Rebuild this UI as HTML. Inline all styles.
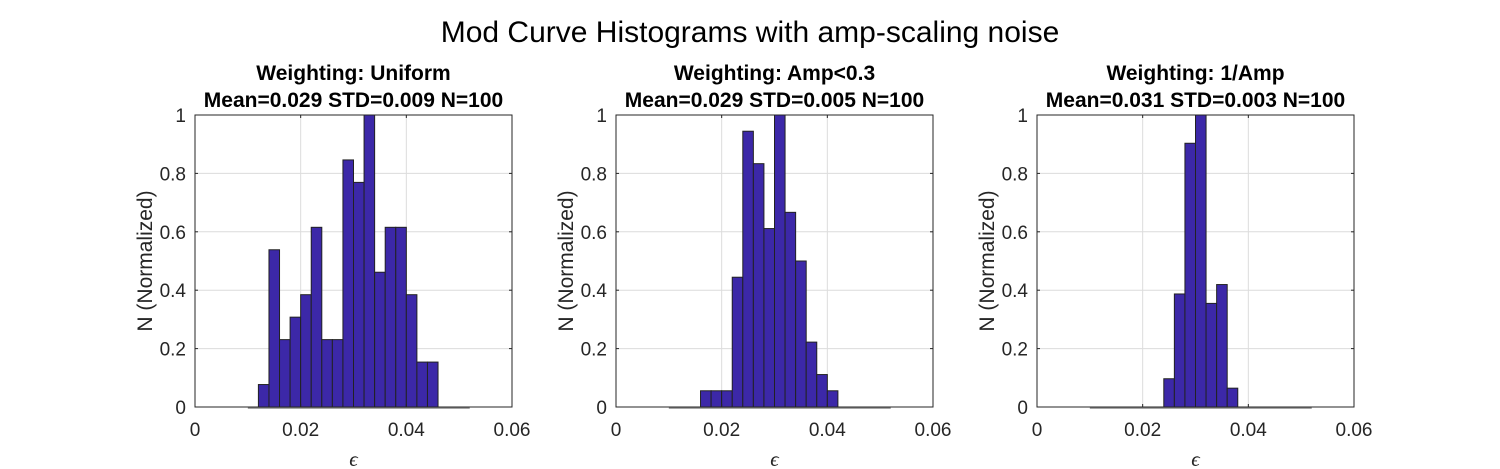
<!DOCTYPE html>
<html><head><meta charset="utf-8"><style>
html,body{margin:0;padding:0;background:#fff;}
svg{display:block;font-family:"Liberation Sans",Arial,sans-serif;}
</style></head><body>
<svg id="fig" width="1500" height="469" viewBox="0 0 1500 469">
<text x="750" y="42" text-anchor="middle" font-size="30" fill="#000">Mod Curve Histograms with amp-scaling noise</text>
</svg>
<script>
const binStart = 0.010, binWidth = 0.002, binCount = 21;
const titles1 = ["Weighting: Uniform", "Weighting: Amp<0.3", "Weighting: 1/Amp"];
const titles2 = ["Mean=0.029 STD=0.009 N=100", "Mean=0.029 STD=0.005 N=100", "Mean=0.031 STD=0.003 N=100"];
const counts1 = [0,1,7,3,4,5,8,3,3,11,10,13,6,8,8,5,2,2,0,0,0];
const counts2 = [0,0,0,1,1,1,8,17,15,11,18,12,9,4,2,1,0,0,0,0,0];
const counts3 = [0,0,0,0,0,0,0,3,12,28,31,11,13,2,0,0,0,0,0,0,0];
const xTicks = [0, 0.02, 0.04, 0.06];
const xTickLabels = ["0", "0.02", "0.04", "0.06"];
const yTicks = [0, 0.2, 0.4, 0.6, 0.8, 1];
const yTickLabels = ["0", "0.2", "0.4", "0.6", "0.8", "1"];
const allCounts = [counts1, counts2, counts3];
const panels = [{l:195,r:512},{l:616,r:933},{l:1037,r:1354}];
const axTop=115, axBot=407;
const NS="http://www.w3.org/2000/svg";
const svg=document.getElementById('fig');
function mk(tag,attrs,parent){const e=document.createElementNS(NS,tag);for(const k in attrs)e.setAttribute(k,attrs[k]);(parent||svg).appendChild(e);return e;}
panels.forEach((p,i)=>{
  const g=mk('g',{});
  
  
  const xs=v=>p.l+(v-0)/(0.06)*(p.r-p.l);
  const ys=v=>axBot-v*(axBot-axTop);
  xTicks.forEach(t=>{const l=mk('line',{x1:xs(t),x2:xs(t),y1:axTop,y2:axBot,stroke:'#dcdcdc','stroke-width':1},g);
    
    });
  yTicks.forEach(t=>{const l=mk('line',{x1:p.l,x2:p.r,y1:ys(t),y2:ys(t),stroke:'#dcdcdc','stroke-width':1},g);
    
    });
  const counts=allCounts[i];
  const mx=Math.max(...counts);
  const bl=mk('line',{x1:xs(binStart),x2:xs(binStart+binWidth*binCount),y1:axBot+1,y2:axBot+1,stroke:'#888','stroke-width':1.5},g);
  
  
  counts.forEach((c,j)=>{
    if(c<=0)return;
    const v=c/mx;
    const x0=xs(binStart+j*binWidth), x1=xs(binStart+(j+1)*binWidth);
    const r=mk('rect',{x:x0,y:ys(v),width:x1-x0,height:axBot-ys(v),fill:'#3c28a8',stroke:'#222','stroke-width':1},g);
    
    
  });
  const box=mk('rect',{x:p.l,y:axTop,width:p.r-p.l,height:axBot-axTop,fill:'none',stroke:'#262626','stroke-width':1},g);
  
  
  xTicks.forEach((t,k)=>{
    mk('line',{x1:xs(t),x2:xs(t),y1:axBot,y2:axBot-3,stroke:'#262626'},g);
    mk('line',{x1:xs(t),x2:xs(t),y1:axTop,y2:axTop+3,stroke:'#262626'},g);
    const tx=mk('text',{x:xs(t),y:axBot+29,'text-anchor':'middle','font-size':19,fill:'#262626'},g);
    tx.textContent=xTickLabels[k];
    
    
  });
  yTicks.forEach((t,k)=>{
    mk('line',{x1:p.l,x2:p.l+3,y1:ys(t),y2:ys(t),stroke:'#262626'},g);
    mk('line',{x1:p.r,x2:p.r-3,y1:ys(t),y2:ys(t),stroke:'#262626'},g);
    const tx=mk('text',{x:p.l-9,y:ys(t)+7,'text-anchor':'end','font-size':19,fill:'#262626'},g);
    tx.textContent=yTickLabels[k];
    
    
  });
  const cx=(p.l+p.r)/2;
  const t1=mk('text',{x:cx,y:80,'text-anchor':'middle','font-size':21,'font-weight':'bold',fill:'#000'},g);
  t1.textContent=titles1[i];
  
  
  const t2=mk('text',{x:cx,y:107,'text-anchor':'middle','font-size':21,'font-weight':'bold',fill:'#000'},g);
  t2.textContent=titles2[i];
  
  
  const xl=mk('text',{x:cx,y:466,'text-anchor':'middle','font-size':21,'font-style':'italic','font-family':'Liberation Serif, serif',fill:'#262626'},g);
  xl.textContent='ϵ';
  
  
  const yl=mk('text',{x:0,y:0,'text-anchor':'middle','font-size':21,fill:'#262626',transform:`translate(${p.l-43},${(axTop+axBot)/2}) rotate(-90)`},g);
  yl.textContent='N (Normalized)';
  
  
});
</script>
</body></html>
